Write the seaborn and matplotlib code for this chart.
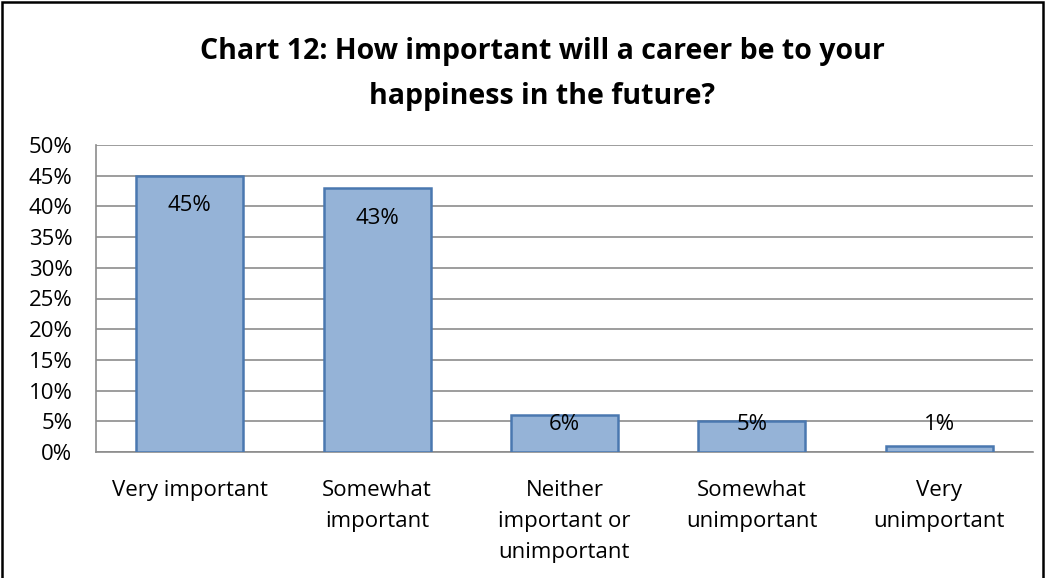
import matplotlib
matplotlib.use("Agg")
import matplotlib.pyplot as plt
import seaborn as sns
import pandas as pd
from matplotlib.patches import Rectangle
from matplotlib.ticker import MultipleLocator, FuncFormatter

categories = ["Very important", "Somewhat\nimportant", "Neither\nimportant or\nunimportant",
              "Somewhat\nunimportant", "Very\nunimportant"]
values = [45, 43, 6, 5, 1]
value_labels = ["45%", "43%", "6%", "5%", "1%"]
title = "Chart 12: How important will a career be to your\nhappiness in the future?"

sns.set_theme(style="white")
plt.rcParams['font.family'] = ['Open Sans', 'DejaVu Sans']
plt.rcParams['text.color'] = 'black'

fig = plt.figure(figsize=(10.48, 5.78), dpi=100)
ax = fig.add_axes([96/1048, 1-452/578, (1033-96)/1048, (452-145)/578])

df = pd.DataFrame({"cat": categories, "val": values})
sns.barplot(data=df, x="cat", y="val", ax=ax, color="#95B3D7", saturation=1,
            edgecolor="#4A78B0", linewidth=1.8, width=0.57, zorder=3)

ax.set_ylim(0, 50)
ax.set_xlim(-0.5, 4.5)
ax.yaxis.set_major_locator(MultipleLocator(5))
ax.yaxis.set_major_formatter(FuncFormatter(lambda v, p: f"{int(round(v))}%"))
ax.grid(axis="y", color="#8C8C8C", linewidth=1.2, zorder=0)
ax.set_axisbelow(True)
for s in ["top", "right"]:
    ax.spines[s].set_visible(False)
for s in ["left", "bottom"]:
    ax.spines[s].set_color("#8C8C8C")
    ax.spines[s].set_linewidth(1.2)
ax.set_xlabel("")
ax.set_ylabel("")
ax.tick_params(axis="y", labelsize=16, labelcolor="black", length=0, pad=17)
ax.tick_params(axis="x", labelsize=16, labelcolor="black", length=0, pad=20)
for lab in ax.get_xticklabels():
    lab.set_linespacing(1.62)
    lab.set_verticalalignment("top")

for i, (v, t) in enumerate(zip(values, value_labels)):
    y = max(v - 4.9, 4.4)
    ax.text(i, y, t, ha="center", va="center", fontsize=16, color="black", zorder=4)

fig.text(542/1048, 1-74/578, title, ha="center", va="center", fontsize=20.5,
         fontweight="bold", linespacing=1.75, color="black")

fig.patches.append(Rectangle((2/1048, -0.05), 1041/1048, 1-2/578+0.05, transform=fig.transFigure,
                             fill=False, edgecolor="black", linewidth=1.8))

fig.savefig("out.png", dpi=100)
